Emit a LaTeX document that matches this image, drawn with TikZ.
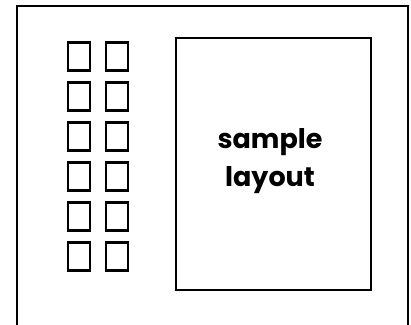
\documentclass[tikz,border=0pt]{standalone}
\usepackage{fontspec}
\setmainfont{Poppins}
\usetikzlibrary{positioning}

\begin{document}
\begin{tikzpicture}[
  x=1pt, y=-1pt,
  node distance=12pt and 16pt,
  slot/.style={draw, line width=2.2pt, minimum width=22pt, minimum height=28pt,
    inner sep=0pt, outer sep=0pt},
  panel/.style={draw, line width=2pt, minimum width=195pt, minimum height=252pt,
    inner sep=0pt},
  label/.style={font=\fontsize{27}{38}\selectfont\bfseries, align=center},
]
  \useasboundingbox (0,0) rectangle (411,324);

  % Outer frame (open at the bottom)
  \draw[line width=1.8pt] (17,330) -- (17,6) -- (408,6) -- (408,330);

  % Left column of slots
  \node[slot] (a1) at (78.7,56.5) {};
  \node[slot, below=of a1] (a2) {};
  \node[slot, below=of a2] (a3) {};
  \node[slot, below=of a3] (a4) {};
  \node[slot, below=of a4] (a5) {};
  \node[slot, below=of a5] (a6) {};

  % Right column of slots
  \node[slot, right=of a1] (b1) {};
  \node[slot, right=of a2] (b2) {};
  \node[slot, right=of a3] (b3) {};
  \node[slot, right=of a4] (b4) {};
  \node[slot, right=of a5] (b5) {};
  \node[slot, right=of a6] (b6) {};

  % Layout panel
  \node[panel] (main) at (273.3,163.7) {};
  \node[label] (title) at (270,161) {sample\\layout};
\end{tikzpicture}
\end{document}
